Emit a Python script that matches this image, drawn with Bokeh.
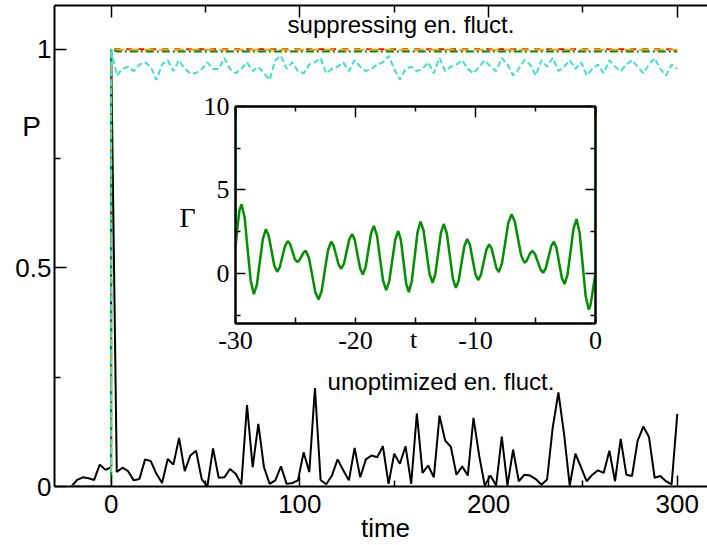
from bokeh.plotting import figure
from bokeh.models import Range1d, LinearAxis, FixedTicker, Label
from bokeh.embed import file_html
from bokeh.resources import INLINE

# ---------------- data ----------------
pre_t = list(range(-21, 1, 3))          # -21 ... 0
post_t = list(range(3, 301, 3))         # 3 ... 300
time = pre_t + [0] + post_t

unopt_p = [0.0, 0.015, 0.021, 0.019, 0.015, 0.05, 0.038, 0.044,
           1.0,
           0.033, 0.043, 0.035, 0.014, 0.017, 0.062, 0.058, 0.029, 0.008, 0.063,
           0.05, 0.111, 0.035, 0.071, 0.082, 0.017, 0.0, 0.087, 0.02, 0.021,
           0.04, 0.029, 0.005, 0.186, 0.044, 0.143, 0.044, 0.006, 0.014, 0.046,
           0.006, 0.008, 0.014, 0.078, 0.033, 0.225, 0.015, 0.005, 0.025, 0.062,
           0.037, 0.014, 0.088, 0.021, 0.062, 0.071, 0.067, 0.092, 0.006, 0.075,
           0.052, 0.092, 0.006, 0.167, 0.031, 0.048, 0.021, 0.162, 0.105, 0.091,
           0.027, 0.046, 0.025, 0.157, 0.071, 0.002, 0.025, 0.002, 0.114, 0.002,
           0.084, 0.012, 0.027, 0.025, 0.017, 0.004, 0.016, 0.135, 0.215, 0.12,
           0.002, 0.075, 0.044, 0.012, 0.027, 0.037, 0.031, 0.082, 0.012, 0.109,
           0.027, 0.024, 0.105, 0.137, 0.113, 0.02, 0.024, 0.012, 0.005, 0.166]

turq_p = [0.0] * 8 + [1.0] + [
    0.94, 0.955, 0.96, 0.95, 0.965, 0.97, 0.96, 0.93, 0.965, 0.975,
    0.95, 0.975, 0.955, 0.945, 0.945, 0.955, 0.97, 0.955, 0.955, 0.98,
    0.955, 0.945, 0.955, 0.97, 0.95, 0.96, 0.945, 0.93, 0.975, 0.985,
    0.955, 0.97, 0.95, 0.945, 0.965, 0.97, 0.98, 0.945, 0.955, 0.96,
    0.97, 0.95, 0.975, 0.96, 0.95, 0.955, 0.965, 0.97, 0.985, 0.955,
    0.93, 0.955, 0.96, 0.95, 0.955, 0.97, 0.945, 0.98, 0.95, 0.96,
    0.965, 0.975, 0.955, 0.945, 0.96, 0.975, 0.96, 0.95, 0.98, 0.965,
    0.94, 0.955, 0.975, 0.965, 0.94, 0.975, 0.96, 0.98, 0.95, 0.96,
    0.975, 0.955, 0.97, 0.94, 0.955, 0.965, 0.945, 0.975, 0.96, 0.95,
    0.965, 0.975, 0.96, 0.945, 0.965, 0.98, 0.955, 0.94, 0.965, 0.955]
red_p = [0.0] * 8 + [1.0] + [1.0] * 100
orange_p = [0.0] * 8 + [1.0] + [0.999] * 100
green_p = [0.0] * 8 + [1.0] + [0.995] * 100

# inset: Gamma(t)
gam_t = [-30.0, -30.0, -29.83, -29.67, -29.5,
         -29.24, -28.99, -28.73, -28.47,
         -28.22, -27.97, -27.72, -27.47,
         -27.24, -27.0, -26.77, -26.53,
         -26.31, -26.09, -25.86, -25.64,
         -25.45, -25.25, -25.06, -24.86,
         -24.68, -24.5, -24.32, -24.14,
         -23.88, -23.61, -23.35, -23.08,
         -22.82, -22.56, -22.29, -22.03,
         -21.82, -21.61, -21.4, -21.19,
         -20.96, -20.74, -20.51, -20.28,
         -20.06, -19.84, -19.61, -19.39,
         -19.16, -18.93, -18.7, -18.47,
         -18.21, -17.96, -17.7, -17.44,
         -17.19, -16.94, -16.69, -16.44,
         -16.22, -16.0, -15.78, -15.56,
         -15.32, -15.07, -14.83, -14.58,
         -14.33, -14.08, -13.83, -13.58,
         -13.35, -13.11, -12.88, -12.64,
         -12.39, -12.14, -11.89, -11.64,
         -11.4, -11.17, -10.93, -10.69,
         -10.46, -10.24, -10.01, -9.78,
         -9.55, -9.32, -9.09, -8.86,
         -8.66, -8.46, -8.26, -8.06,
         -7.8, -7.53, -7.27, -7.0,
         -6.73, -6.46, -6.19, -5.92,
         -5.75, -5.59, -5.42, -5.25,
         -5.03, -4.81, -4.58, -4.36,
         -4.14, -3.92, -3.69, -3.47,
         -3.25, -3.03, -2.8, -2.58,
         -2.33, -2.08, -1.83, -1.58,
         -1.33, -1.07, -0.82, -0.56,
         -0.42, -0.28, -0.14, 0.0, 0.0]
gam_v = [11.0, 1.6, 2.8, 3.78, 4.14,
         3.35, 1.45, -0.45, -1.24,
         -0.67, 0.7, 2.07, 2.64,
         2.27, 1.37, 0.47, 0.1,
         0.37, 1.02, 1.67, 1.94,
         1.76, 1.31, 0.86, 0.68,
         0.78, 1.02, 1.26, 1.36,
         0.93, -0.1, -1.13, -1.56,
         -1.05, 0.17, 1.39, 1.9,
         1.66, 1.09, 0.52, 0.28,
         0.58, 1.32, 2.06, 2.36,
         2.01, 1.15, 0.29, -0.06,
         0.36, 1.39, 2.42, 2.84,
         2.28, 0.92, -0.44, -1.0,
         -0.48, 0.77, 2.02, 2.54,
         2.01, 0.71, -0.59, -1.12,
         -0.5, 0.99, 2.48, 3.1,
         2.57, 1.27, -0.03, -0.56,
         -0.05, 1.2, 2.45, 2.96,
         2.4, 1.05, -0.3, -0.86,
         -0.43, 0.6, 1.63, 2.06,
         1.7, 0.83, -0.04, -0.4,
         -0.09, 0.67, 1.43, 1.74,
         1.5, 0.91, 0.32, 0.08,
         0.59, 1.81, 3.03, 3.54,
         3.12, 2.09, 1.06, 0.64,
         0.74, 0.99, 1.24, 1.34,
         1.15, 0.69, 0.23, 0.04,
         0.31, 0.97, 1.63, 1.9,
         1.53, 0.63, -0.27, -0.64,
         -0.07, 1.31, 2.69, 3.26,
         2.47, 0.55, -1.37, -2.16,
         -1.9, -1.3, -0.6, 0.0, 11.0]

main_xticks = [0, 100, 200, 300]
main_xminor = [50, 150, 250]
main_yticks = [0, 0.5, 1]
main_yminor = [0.25, 0.75]
main_ylabels = {0: "0", 0.5: "0.5", 1: "1"}
inset_xticks = [-30, -20, -10, 0]
inset_xminor = [-25, -15, -5]
inset_xlabels = {-30: "-30", -20: "-20", -10: "-10", 0: "0"}
inset_yticks = [0, 5, 10]
inset_yminor = [-2.5, 2.5, 7.5]

SANS = "Liberation Sans"
SERIF = "Liberation Serif"
GREEN = "#009000"

# ---------------- main figure ----------------
p = figure(width=707, height=545, x_range=Range1d(-30, 316), y_range=Range1d(0, 1.1),
           output_backend="svg", toolbar_location=None,
           x_axis_location=None, y_axis_location=None,
           min_border_left=54, min_border_right=0, min_border_top=5, min_border_bottom=59)
p.outline_line_color = None
p.grid.visible = False


def style(ax, font, size, major_in, minor_in, standoff, show_labels=True):
    ax.axis_line_width = 2
    ax.axis_line_color = "black"
    ax.major_tick_in = major_in
    ax.major_tick_out = 0
    ax.minor_tick_in = minor_in
    ax.minor_tick_out = 0
    ax.major_tick_line_width = 1.5
    ax.minor_tick_line_width = 1.5
    ax.major_label_text_font = font
    ax.major_label_text_color = "black"
    ax.major_label_standoff = standoff
    if show_labels:
        ax.major_label_text_font_size = size
    else:
        ax.major_label_text_font_size = "0px"


xb = LinearAxis(ticker=FixedTicker(ticks=main_xticks, minor_ticks=main_xminor))
style(xb, SANS, "26px", 11, 6, 8)
p.add_layout(xb, "below")
xa = LinearAxis(ticker=FixedTicker(ticks=main_xticks, minor_ticks=main_xminor))
style(xa, SANS, "26px", 12, 7, 0, show_labels=False)
p.add_layout(xa, "above")
yl = LinearAxis(ticker=FixedTicker(ticks=main_yticks, minor_ticks=main_yminor),
                major_label_overrides=main_ylabels)
style(yl, SANS, "26px", 12, 6, 3)
p.add_layout(yl, "left")

p.line(time, unopt_p, line_color="black", line_width=2)
p.line(time, red_p, line_color="red", line_width=2, line_dash="6 6")
p.line(time, orange_p, line_color="orange", line_width=2, line_dash="10 5")
p.line(time, green_p, line_color=GREEN, line_width=2, line_dash="8 3 2 3")
p.line(time, turq_p, line_color="#40e0d0", line_width=2, line_dash="6 3")

for txt, x, y in [("suppressing en. fluct.", 153.6, 1.056),
                  ("unoptimized en. fluct.", 174.8, 0.239)]:
    p.add_layout(Label(x=x, y=y, text=txt, text_font=SANS, text_font_size="24px",
                       text_color="black", text_align="center", text_baseline="alphabetic"))

# ---------------- inset ----------------
inset = figure(frame_width=360, frame_height=217, x_range=Range1d(-30, 0), y_range=Range1d(-3, 10),
               output_backend="svg", toolbar_location=None,
               x_axis_location=None, y_axis_location=None,
               min_border_left=60, min_border_right=10, min_border_top=20, min_border_bottom=40,
               background_fill_color="white", border_fill_color=None,
               styles={"position": "absolute", "left": "175px", "top": "86px"})
inset.outline_line_color = "black"
inset.outline_line_width = 2
inset.grid.visible = False

ib = LinearAxis(ticker=FixedTicker(ticks=inset_xticks, minor_ticks=inset_xminor),
                major_label_overrides=inset_xlabels)
style(ib, SERIF, "26px", 6, 6, 8)
inset.add_layout(ib, "below")
ia = LinearAxis(ticker=FixedTicker(ticks=inset_xticks, minor_ticks=inset_xminor))
style(ia, SERIF, "26px", 11, 5, 0, show_labels=False)
inset.add_layout(ia, "above")
il = LinearAxis(ticker=FixedTicker(ticks=inset_yticks, minor_ticks=inset_yminor))
style(il, SERIF, "26px", 10, 5, 6)
inset.add_layout(il, "left")
ir = LinearAxis(ticker=FixedTicker(ticks=inset_yticks, minor_ticks=inset_yminor))
style(ir, SERIF, "26px", 10, 5, 0, show_labels=False)
inset.add_layout(ir, "right")

inset.line(gam_t, gam_v, line_color=GREEN, line_width=2.5)

# ---------------- text overlay (pixel coordinates of the page) ----------------
overlay = figure(width=707, height=545, x_range=Range1d(0, 707), y_range=Range1d(545, 0),
                 output_backend="svg", toolbar_location=None,
                 x_axis_location=None, y_axis_location=None,
                 min_border_left=0, min_border_right=0, min_border_top=0, min_border_bottom=0,
                 background_fill_color=None, border_fill_color=None,
                 styles={"position": "absolute", "left": "0px", "top": "0px"})
overlay.outline_line_color = None
overlay.grid.visible = False

for txt, x, y, font, size in [("P", 31, 126, SANS, "28px"),
                              ("time", 385, 527, SANS, "26px"),
                              ("t", 413, 339, SERIF, "26px"),
                              ("Γ", 187, 217, SERIF, "28px")]:
    overlay.add_layout(Label(x=x, y=y, text=txt, text_font=font, text_font_size=size,
                             text_color="black", text_align="center", text_baseline="alphabetic"))

open("out.html", "w").write(file_html([p, inset, overlay], INLINE))
